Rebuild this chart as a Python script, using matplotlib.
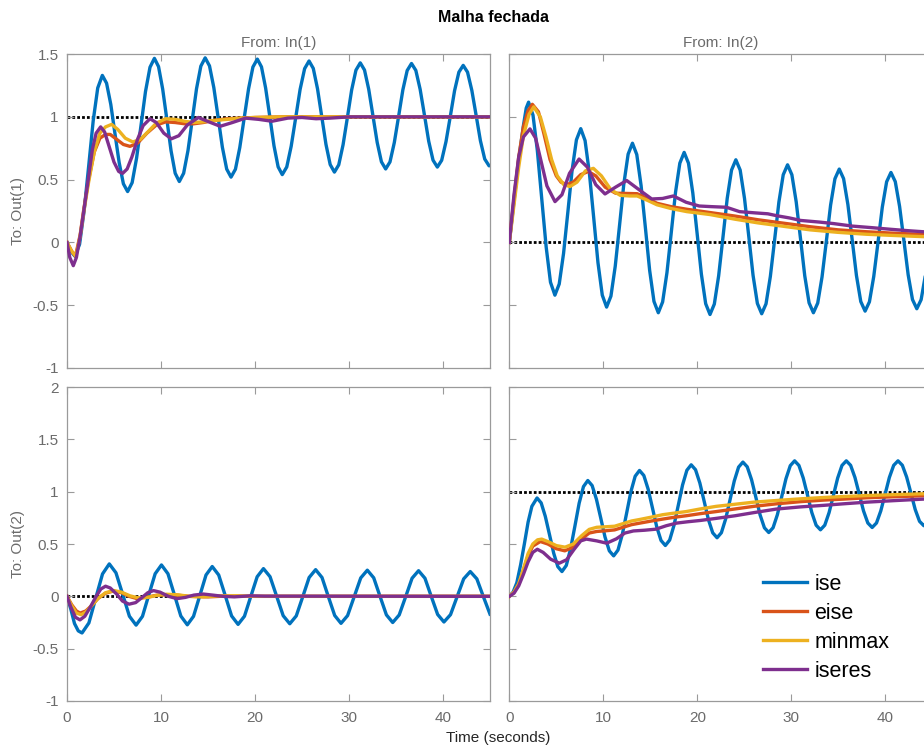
import numpy as np
import matplotlib
matplotlib.use("Agg")
import matplotlib.pyplot as plt
from matplotlib.ticker import FuncFormatter

plt.rcParams['font.family'] = ['Liberation Sans', 'DejaVu Sans']
plt.rcParams['axes.unicode_minus'] = False

#%% step responses, read per channel (Out i <- In j)

# Out(1) <- In(1)
t_ise_11 = [0, 0.4, 0.85, 1.34, 1.82, 2.31, 2.79, 3.27, 3.76,
            4.21, 4.66, 5.10, 5.55, 6.00, 6.45,
            6.93, 7.40, 7.88, 8.35, 8.83, 9.30,
            9.74, 10.18, 10.63, 11.07, 11.51, 11.95,
            12.41, 12.87, 13.33, 13.78, 14.24, 14.70,
            15.16, 15.62, 16.08, 16.53, 16.99, 17.45,
            17.92, 18.38, 18.85, 19.32, 19.78, 20.25,
            20.69, 21.13, 21.58, 22.02, 22.46, 22.90,
            23.38, 23.85, 24.33, 24.80, 25.28, 25.75,
            26.20, 26.65, 27.10, 27.55, 28.00, 28.45,
            28.91, 29.37, 29.83, 30.28, 30.74, 31.20,
            31.65, 32.10, 32.55, 33.00, 33.45, 33.90,
            34.36, 34.82, 35.28, 35.73, 36.19, 36.65,
            37.11, 37.57, 38.03, 38.48, 38.94, 39.40,
            39.86, 40.32, 40.78, 41.23, 41.69, 42.15,
            42.61, 43.07, 43.53, 43.98, 44.44, 44.90, 45.0]
y_ise_11 = [0, -0.07, -0.11, -0.014, 0.25, 0.61, 0.97, 1.23, 1.33,
            1.268, 1.099, 0.868, 0.636, 0.467, 0.405,
            0.476, 0.670, 0.935, 1.201, 1.395, 1.466,
            1.400, 1.221, 0.976, 0.730, 0.551, 0.485,
            0.551, 0.731, 0.978, 1.224, 1.404, 1.470,
            1.406, 1.233, 0.995, 0.758, 0.584, 0.520,
            0.583, 0.755, 0.990, 1.225, 1.397, 1.460,
            1.398, 1.230, 1.000, 0.770, 0.602, 0.540,
            0.601, 0.766, 0.993, 1.219, 1.384, 1.445,
            1.386, 1.224, 1.003, 0.781, 0.620, 0.560,
            0.618, 0.778, 0.995, 1.213, 1.372, 1.430,
            1.373, 1.219, 1.008, 0.796, 0.642, 0.585,
            0.641, 0.795, 1.005, 1.215, 1.369, 1.425,
            1.370, 1.219, 1.013, 0.806, 0.655, 0.600,
            0.654, 0.803, 1.005, 1.208, 1.356, 1.410,
            1.356, 1.210, 1.010, 0.810, 0.664, 0.610, 0.612]
t_eise_11 = [0, 0.5, 0.9, 1.4, 1.8, 2.3, 2.9, 3.5, 4.1, 4.6, 5.3, 6.0, 6.7, 7.5,
             8.5, 9.5, 10.5, 11.5, 12.5, 13.5, 14.5, 15.5, 17, 18.5, 20, 23, 45]
y_eise_11 = [0, -0.07, -0.11, 0.06, 0.27, 0.5, 0.72, 0.83, 0.86, 0.86, 0.82, 0.78,
             0.765, 0.79, 0.87, 0.935, 0.96, 0.955, 0.945, 0.945, 0.955, 0.97,
             0.985, 0.99, 0.995, 1.0, 1.0]
t_minmax_11 = [0, 0.5, 0.95, 1.4, 1.8, 2.3, 2.9, 3.5, 4.1, 4.75, 5.4, 6.2, 7.0, 7.8,
               8.6, 9.5, 10.5, 11.5, 12.5, 13.5, 14.5, 15.5, 17, 18.5, 20, 23, 45]
y_minmax_11 = [0, -0.07, -0.11, 0.05, 0.25, 0.48, 0.72, 0.87, 0.92, 0.94, 0.90,
               0.83, 0.80, 0.82, 0.88, 0.95, 0.985, 0.98, 0.965, 0.955, 0.96, 0.97,
               0.98, 0.99, 0.995, 1.0, 1.0]
t_iseres_11 = [0, 0.3, 0.67, 1.0, 1.4, 1.9, 2.3, 2.7, 3.1, 3.58, 4.0, 4.5, 5.0, 5.5,
               5.92, 6.4, 6.9, 7.5, 8.1, 8.83, 9.5, 10.3, 11.1, 11.9, 12.8, 13.97,
               15.1, 16.3, 17.6, 19.0, 20.4, 21.8, 23.5, 25.0, 26.5, 28, 30, 45]
y_iseres_11 = [0, -0.12, -0.185, -0.12, 0.05, 0.31, 0.52, 0.74, 0.87, 0.92, 0.88,
               0.76, 0.64, 0.565, 0.55, 0.585, 0.68, 0.82, 0.93, 0.985, 0.955, 0.87,
               0.825, 0.85, 0.935, 0.995, 0.96, 0.925, 0.955, 0.99, 0.98, 0.965,
               0.99, 0.995, 0.985, 0.99, 1.0, 1.0]

# Out(1) <- In(2)
t_ise_12 = [0, 0.5, 1.0, 1.5, 1.8, 2.05,
            2.52, 2.98, 3.45, 3.92, 4.38, 4.85,
            5.31, 5.77, 6.23, 6.68, 7.14, 7.60,
            8.06, 8.52, 8.98, 9.43, 9.89, 10.35,
            10.81, 11.27, 11.73, 12.18, 12.64, 13.10,
            13.56, 14.02, 14.48, 14.93, 15.39, 15.85,
            16.31, 16.77, 17.23, 17.68, 18.14, 18.60,
            19.06, 19.52, 19.98, 20.43, 20.89, 21.35,
            21.81, 22.27, 22.73, 23.18, 23.64, 24.10,
            24.56, 25.02, 25.48, 25.93, 26.39, 26.85,
            27.31, 27.77, 28.23, 28.68, 29.14, 29.60,
            30.06, 30.52, 30.98, 31.43, 31.89, 32.35,
            32.81, 33.27, 33.73, 34.18, 34.64, 35.10,
            35.56, 36.02, 36.48, 36.93, 37.39, 37.85,
            38.31, 38.77, 39.23, 39.68, 40.14, 40.60,
            41.06, 41.52, 41.98, 42.43, 42.89, 43.35,
            43.81, 44.27, 44.73, 45.0]
y_ise_12 = [0, 0.33, 0.66, 0.93, 1.07, 1.117,
            1.014, 0.733, 0.348, -0.036, -0.317, -0.420,
            -0.331, -0.088, 0.243, 0.575, 0.817, 0.906,
            0.811, 0.551, 0.195, -0.160, -0.420, -0.515,
            -0.428, -0.189, 0.138, 0.464, 0.703, 0.790,
            0.700, 0.452, 0.115, -0.223, -0.470, -0.560,
            -0.474, -0.241, 0.079, 0.398, 0.631, 0.717,
            0.631, 0.394, 0.071, -0.251, -0.488, -0.574,
            -0.491, -0.266, 0.042, 0.350, 0.576, 0.658,
            0.576, 0.351, 0.045, -0.262, -0.486, -0.568,
            -0.489, -0.271, 0.025, 0.322, 0.539, 0.618,
            0.539, 0.323, 0.029, -0.266, -0.481, -0.560,
            -0.483, -0.274, 0.012, 0.298, 0.507, 0.584,
            0.508, 0.301, 0.018, -0.264, -0.471, -0.547,
            -0.473, -0.271, 0.005, 0.281, 0.483, 0.557,
            0.484, 0.286, 0.014, -0.257, -0.455, -0.528,
            -0.456, -0.258, 0.0, 0.17]
t_eise_12 = [0, 0.5, 1.0, 1.5, 2.0, 2.45, 3.1, 3.7, 4.33, 5.0, 5.5, 6.1, 6.8, 7.6,
             8.4, 9.2, 10.2, 11.3, 12.5, 13.6, 14.7, 15.7, 17.2, 18.9, 21.35, 24,
             26.5, 29, 32, 35, 38, 41, 44, 45]
y_eise_12 = [0, 0.35, 0.68, 0.92, 1.05, 1.10, 1.04, 0.86, 0.66, 0.53, 0.48, 0.46,
             0.48, 0.54, 0.565, 0.53, 0.44, 0.392, 0.39, 0.388, 0.35, 0.312, 0.285,
             0.264, 0.238, 0.21, 0.18, 0.155, 0.125, 0.10, 0.085, 0.073, 0.064, 0.06]
t_minmax_12 = [0, 0.5, 1.0, 1.5, 2.1, 2.6, 3.3, 3.9, 4.5, 5.1, 5.8, 6.45, 7.2, 8.1,
               8.94, 9.8, 10.8, 11.8, 12.8, 13.6, 14.7, 15.7, 17.2, 18.9, 21.35, 24,
               26.5, 29, 32, 35, 38, 41, 44, 45]
y_minmax_12 = [0, 0.30, 0.60, 0.85, 1.02, 1.08, 1.0, 0.84, 0.66, 0.53, 0.46, 0.445,
               0.48, 0.57, 0.59, 0.53, 0.42, 0.375, 0.37, 0.37, 0.335, 0.30, 0.27,
               0.245, 0.222, 0.185, 0.155, 0.13, 0.10, 0.08, 0.065, 0.055, 0.046,
               0.044]
t_iseres_12 = [0, 0.5, 1.0, 1.5, 2.2, 2.8, 3.4, 4.0, 4.86, 5.6, 6.4, 7.42, 8.3, 9.2,
               10.18, 11.3, 12.49, 13.8, 15.15, 16.3, 17.45, 18.8, 20.2, 21.5, 23.1,
               24.5, 26.2, 27.5, 28.5, 29.8, 31, 33, 34.5, 36.5, 38.5, 40.5, 42.5, 45]
y_iseres_12 = [0, 0.38, 0.68, 0.84, 0.904, 0.83, 0.64, 0.45, 0.325, 0.38, 0.55,
               0.664, 0.60, 0.46, 0.386, 0.44, 0.493, 0.42, 0.346, 0.35, 0.37, 0.32,
               0.29, 0.285, 0.28, 0.245, 0.235, 0.228, 0.212, 0.195, 0.175, 0.162,
               0.15, 0.13, 0.118, 0.105, 0.093, 0.08]

# Out(2) <- In(1)
t_ise_21 = [0, 0.4, 0.8, 1.2, 1.6,
            2.33, 3.05, 3.78, 4.5,
            5.21, 5.93, 6.64, 7.35,
            8.03, 8.70, 9.38, 10.05,
            10.74, 11.43, 12.11, 12.8,
            13.46, 14.13, 14.79, 15.45,
            16.14, 16.83, 17.51, 18.2,
            18.88, 19.55, 20.23, 20.9,
            21.6, 22.3, 23.0, 23.7,
            24.39, 25.08, 25.76, 26.45,
            27.13, 27.8, 28.48, 29.15,
            29.85, 30.55, 31.25, 31.95,
            32.63, 33.3, 33.98, 34.65,
            35.34, 36.03, 36.71, 37.4,
            38.08, 38.75, 39.43, 40.1,
            40.8, 41.5, 42.2, 42.9,
            43.6, 44.3, 45.0]
y_ise_21 = [0, -0.12, -0.26, -0.33, -0.35,
            -0.254, -0.02, 0.214, 0.31,
            0.225, 0.018, -0.19, -0.275,
            -0.191, 0.013, 0.216, 0.30,
            0.216, 0.014, -0.188, -0.272,
            -0.191, 0.007, 0.204, 0.285,
            0.204, 0.009, -0.187, -0.268,
            -0.19, -0.002, 0.187, 0.265,
            0.188, 0.002, -0.185, -0.262,
            -0.187, -0.004, 0.18, 0.255,
            0.18, -0.002, -0.183, -0.258,
            -0.184, -0.004, 0.176, 0.25,
            0.177, 0.0, -0.177, -0.25,
            -0.178, -0.003, 0.173, 0.245,
            0.173, 0.0, -0.173, -0.245,
            -0.175, -0.004, 0.167, 0.237,
            0.167, -0.004, -0.17]
t_eise_21 = [0, 0.5, 1.0, 1.4, 2.0, 2.6, 3.3, 4.1, 4.9, 5.8, 6.6, 7.4, 8.4, 9.5,
             10.5, 11.8, 13, 15, 17, 20, 45]
y_eise_21 = [0, -0.08, -0.14, -0.16, -0.14, -0.09, -0.02, 0.03, 0.05, 0.035, 0.0,
             -0.02, -0.01, 0.01, 0.015, 0.01, 0.0, -0.005, 0.003, 0.0, 0.0]
t_minmax_21 = [0, 0.5, 1.0, 1.5, 2.0, 2.6, 3.3, 4.1, 5.0, 5.8, 6.7, 7.6, 8.6, 9.6,
               10.6, 11.8, 13, 14.5, 16, 18, 20, 45]
y_minmax_21 = [0, -0.09, -0.16, -0.175, -0.15, -0.09, -0.02, 0.035, 0.055, 0.04,
               0.005, -0.015, -0.01, 0.01, 0.02, 0.015, 0.0, -0.005, 0.005, 0.005,
               0.0, 0.0]
t_iseres_21 = [0, 0.4, 0.9, 1.38, 1.9, 2.5, 3.1, 3.6, 4.1, 4.6, 5.3, 5.9, 6.6, 7.3,
               8.0, 8.6, 9.2, 9.9, 10.8, 11.7, 12.6, 13.5, 14.5, 15.5, 16.6, 17.8,
               19.5, 21, 45]
y_iseres_21 = [0, -0.1, -0.2, -0.225, -0.19, -0.1, 0.0, 0.07, 0.097, 0.08, 0.02,
               -0.045, -0.075, -0.06, -0.01, 0.035, 0.055, 0.04, 0.0, -0.022, -0.01,
               0.012, 0.022, 0.012, 0.0, -0.005, 0.005, 0.002, 0.0]

# Out(2) <- In(2)
t_ise_22 = [0, 0.4, 0.8, 1.2, 1.6, 2.0, 2.4, 2.95,
            3.39, 3.83, 4.28, 4.72, 5.16, 5.60,
            6.06, 6.52, 6.98, 7.43, 7.89, 8.35,
            8.81, 9.27, 9.73, 10.18, 10.64, 11.10,
            11.56, 12.02, 12.48, 12.93, 13.39, 13.85,
            14.31, 14.77, 15.23, 15.68, 16.14, 16.60,
            17.06, 17.52, 17.98, 18.43, 18.89, 19.35,
            19.81, 20.27, 20.73, 21.18, 21.64, 22.10,
            22.56, 23.02, 23.48, 23.93, 24.39, 24.85,
            25.31, 25.77, 26.23, 26.68, 27.14, 27.60,
            28.06, 28.52, 28.98, 29.43, 29.89, 30.35,
            30.81, 31.27, 31.73, 32.18, 32.64, 33.10,
            33.56, 34.02, 34.48, 34.93, 35.39, 35.85,
            36.31, 36.77, 37.23, 37.68, 38.14, 38.60,
            39.06, 39.52, 39.98, 40.43, 40.89, 41.35,
            41.81, 42.27, 42.73, 43.18, 43.64, 44.10,
            44.56, 45.0]
y_ise_22 = [0, 0.04, 0.13, 0.30, 0.50, 0.71, 0.86, 0.94,
            0.893, 0.764, 0.588, 0.413, 0.284, 0.237,
            0.295, 0.455, 0.672, 0.890, 1.049, 1.107,
            1.059, 0.927, 0.747, 0.567, 0.435, 0.387,
            0.442, 0.591, 0.795, 0.999, 1.148, 1.203,
            1.155, 1.024, 0.844, 0.665, 0.534, 0.486,
            0.538, 0.679, 0.872, 1.064, 1.205, 1.257,
            1.210, 1.083, 0.908, 0.734, 0.607, 0.560,
            0.608, 0.741, 0.922, 1.102, 1.235, 1.283,
            1.238, 1.115, 0.946, 0.778, 0.655, 0.610,
            0.656, 0.781, 0.953, 1.124, 1.249, 1.295,
            1.251, 1.130, 0.965, 0.801, 0.680, 0.636,
            0.680, 0.801, 0.966, 1.130, 1.251, 1.295,
            1.252, 1.136, 0.976, 0.817, 0.701, 0.658,
            0.701, 0.817, 0.977, 1.136, 1.252, 1.295,
            1.253, 1.140, 0.985, 0.830, 0.717, 0.675,
            0.716, 0.80]
t_eise_22 = [0, 0.5, 1.0, 1.5, 2.0, 2.5, 3.3, 4.1, 5.0, 5.9, 6.8, 7.7, 8.5, 9.3,
             10.3, 11.2, 12.1, 13.0, 13.9, 15, 16.3, 17.5, 18.8, 20.3, 22, 24, 26,
             28.4, 31, 33.5, 35.5, 38, 41, 44, 45]
y_eise_22 = [0, 0.04, 0.12, 0.25, 0.39, 0.48, 0.524, 0.50, 0.455, 0.435, 0.47,
             0.55, 0.605, 0.62, 0.627, 0.635, 0.66, 0.685, 0.70, 0.718, 0.738,
             0.755, 0.77, 0.79, 0.81, 0.835, 0.86, 0.884, 0.905, 0.92, 0.929,
             0.942, 0.952, 0.961, 0.963]
t_minmax_22 = [0, 0.5, 1.0, 1.5, 2.0, 2.5, 3.0, 3.45, 4.2, 5.0, 5.93, 6.8, 7.7,
               8.5, 9.3, 10.3, 11.2, 12.1, 13.0, 13.9, 15, 16.3, 17.5, 18.8, 20.3,
               22, 24, 26, 28.4, 31, 33.5, 35.5, 38, 41, 44, 45]
y_minmax_22 = [0, 0.04, 0.12, 0.26, 0.41, 0.50, 0.54, 0.547, 0.52, 0.485, 0.47,
               0.50, 0.58, 0.64, 0.66, 0.665, 0.67, 0.695, 0.72, 0.735, 0.755,
               0.78, 0.795, 0.81, 0.835, 0.86, 0.88, 0.90, 0.916, 0.932, 0.945,
               0.954, 0.963, 0.972, 0.98, 0.982]
t_iseres_22 = [0, 0.5, 1.0, 1.5, 2.0, 2.5, 2.98, 3.6, 4.4, 5.32, 6.1, 6.9, 7.6, 8.2,
               9.3, 10.36, 11.4, 12.3, 13.2, 14.4, 15.6, 16.7, 17.8, 19.0, 20.3, 22,
               24, 26, 28.4, 31, 33.5, 35.5, 38, 41, 44, 45]
y_iseres_22 = [0, 0.03, 0.10, 0.21, 0.33, 0.42, 0.45, 0.42, 0.355, 0.317, 0.35,
               0.45, 0.53, 0.547, 0.53, 0.508, 0.55, 0.605, 0.625, 0.632, 0.642,
               0.675, 0.70, 0.713, 0.725, 0.745, 0.77, 0.80, 0.834, 0.855, 0.87,
               0.884, 0.90, 0.915, 0.929, 0.932]

names = ['ise', 'eise', 'minmax', 'iseres']
colors = ['#0072BD', '#D95319', '#EDB120', '#7E2F8E']
steady = [[1, 0], [0, 1]]  # final values per channel

curves = {
    (0, 0): [(t_ise_11, y_ise_11), (t_eise_11, y_eise_11), (t_minmax_11, y_minmax_11), (t_iseres_11, y_iseres_11)],
    (0, 1): [(t_ise_12, y_ise_12), (t_eise_12, y_eise_12), (t_minmax_12, y_minmax_12), (t_iseres_12, y_iseres_12)],
    (1, 0): [(t_ise_21, y_ise_21), (t_eise_21, y_eise_21), (t_minmax_21, y_minmax_21), (t_iseres_21, y_iseres_21)],
    (1, 1): [(t_ise_22, y_ise_22), (t_eise_22, y_eise_22), (t_minmax_22, y_minmax_22), (t_iseres_22, y_iseres_22)],
}

#%% figure
gray_txt = '#6b6b6b'
gray_ax = '#9a9a9a'

fig = plt.figure(figsize=(9.24, 7.51), dpi=100)
lefts = [0.0725, 0.5512]
bottoms = [0.51, 0.0666]
w, h = 0.4578, 0.418
ylims = [(-1, 1.5), (-1, 2)]
yticks = [[-1, -0.5, 0, 0.5, 1, 1.5], [-1, -0.5, 0, 0.5, 1, 1.5, 2]]

axes = {}
for i in range(2):
    for j in range(2):
        ax = fig.add_axes([lefts[j], bottoms[i], w, h])
        axes[(i, j)] = ax
        ax.axhline(steady[i][j], color='k', lw=2.0, ls=(0, (1.0, 0.75)), zorder=1)
        for k, (tt, yy) in enumerate(curves[(i, j)]):
            ax.plot(tt, yy, color=colors[k], lw=2.4, label=names[k], zorder=2 + k)
        ax.set_xlim(0, 45)
        ax.set_ylim(*ylims[i])
        ax.set_xticks([0, 10, 20, 30, 40])
        ax.set_yticks(yticks[i])
        ax.yaxis.set_major_formatter(FuncFormatter(lambda v, p: f'{v:g}'))
        ax.tick_params(direction='in', top=True, right=True, length=5, width=0.8,
                       color=gray_ax, labelcolor=gray_txt, labelsize=11)
        ax.tick_params(axis='y', pad=6)
        ax.tick_params(axis='x', pad=7)
        if i == 0:
            ax.tick_params(labelbottom=False)
        if j == 1:
            ax.tick_params(labelleft=False)
        for s in ax.spines.values():
            s.set_color(gray_ax)
            s.set_linewidth(0.9)

leg = axes[(1, 1)].legend(loc='upper left', bbox_to_anchor=(0.6, 0.405), frameon=False,
                          fontsize=15.5, handlelength=2.05, handletextpad=0.33,
                          labelspacing=0.37, borderpad=0, borderaxespad=0)

fig.text(0.5346, 0.977, 'Malha fechada', ha='center', va='center',
         fontsize=11.5, fontweight='bold', color='k')
fig.text(0.3014, 0.9427, 'From: In(1)', ha='center', va='center', fontsize=11, color=gray_txt)
fig.text(0.7798, 0.9427, 'From: In(2)', ha='center', va='center', fontsize=11, color=gray_txt)
fig.text(0.0195, 0.719, 'To: Out(1)', ha='center', va='center', rotation=90, fontsize=11, color=gray_txt)
fig.text(0.0195, 0.2756, 'To: Out(2)', ha='center', va='center', rotation=90, fontsize=11, color=gray_txt)
fig.text(0.5395, 0.0173, 'Time (seconds)', ha='center', va='center', fontsize=11, color='#262626')

fig.savefig('out.png', dpi=100)
